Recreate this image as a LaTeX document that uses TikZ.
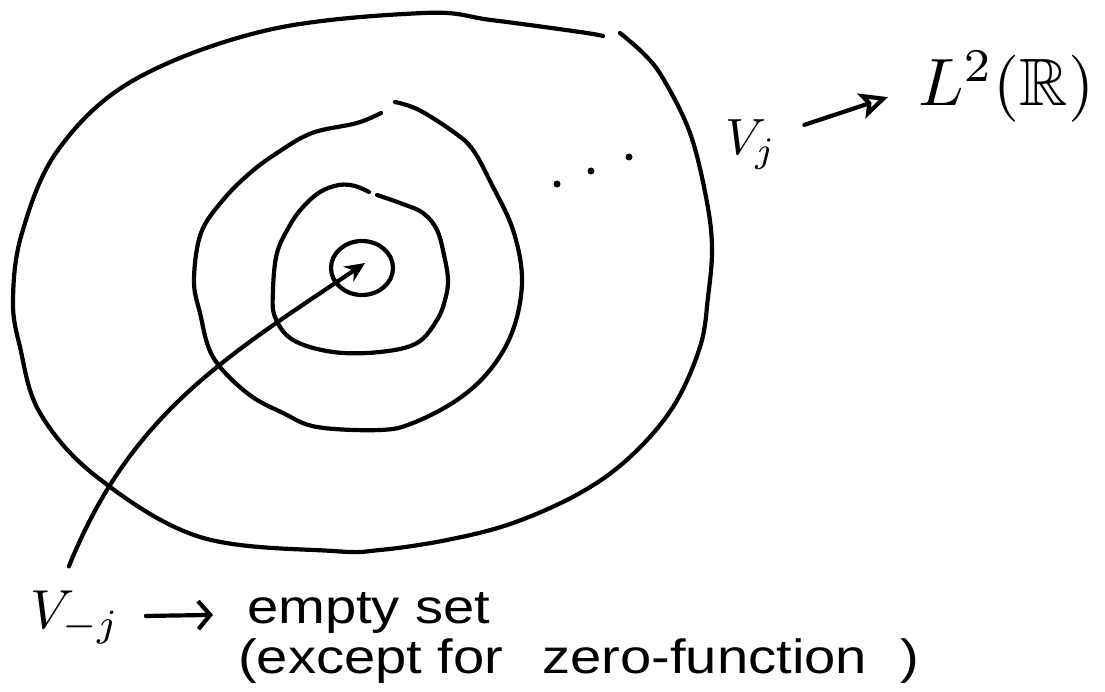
\documentclass[tikz,border=0pt]{standalone}
\usepackage{fontspec}
\setmainfont{Liberation Sans}
\usepackage{amssymb}
\usetikzlibrary{arrows.meta,shapes.geometric}
\begin{document}
\begin{tikzpicture}[x=1pt,y=-1pt, line width=4.2pt, line cap=round, line join=round,
  ring/.style={draw=black, line width=4.2pt},
  lbl/.style={inner sep=0pt, anchor=base west},
  txt/.style={inner sep=0pt, anchor=base west, font=\fontsize{48}{58}\selectfont},
  dotmark/.style={fill=black, circle, inner sep=0pt, minimum size=7pt}]
\useasboundingbox (0,0) rectangle (1105,692);
\fill[white] (0,0) rectangle (1105,692);

% outer region
\draw[ring] plot[smooth, tension=0.6] coordinates {
  (620,33) (645,55) (664,80) (690,133) (706,197) (712,247) (708,297) (700,347)
  (673,407) (630,457) (580,493) (513,523) (447,540) (380,550) (333,551) (200,537)
  (97,477) (40,413) (20,347) (13,300) (22,233) (58,150) (134,80) (268,30)
  (424,13) (491,20) (580,32) (603,36)};
% middle region
\draw[ring] plot[smooth, tension=0.6] coordinates {
  (395,102) (419,110) (455,133) (473,150) (491,183) (513,230) (522,280) (513,330)
  (490,370) (457,400) (413,423) (380,430) (317,427) (283,413) (247,393) (213,357)
  (200,313) (194,280) (201,233) (223,200) (250,173) (277,153) (312,133) (357,123) (381,113)};
% inner region
\draw[ring] plot[smooth, tension=0.6] coordinates {
  (377,195) (400,203) (423,213) (437,230) (444,255) (448,280) (445,300) (437,320)
  (417,343) (380,352) (333,352) (293,340) (275,317) (273,290) (277,253) (290,225)
  (303,207) (320,192) (339,185) (355,186) (369,192)};
% innermost
\node[draw, ellipse, line width=4.2pt, minimum width=62pt, minimum height=54pt, inner sep=0pt] (c0) at (362,268) {};

% dots
\node[dotmark] (d1) at (557,184) {};
\node[dotmark] (d2) at (591,171) {};
\node[dotmark] (d3) at (629,157) {};

% labels
\node[lbl] (Vj) at (723,155) {\scalebox{5.1}{$V_j$}};
\node[lbl] (L2) at (916,106) {\scalebox{6.7}{$L^2(\mathbb{R})$}};
\node[lbl] (Vmj) at (28,628) {\scalebox{5.5}{$V_{-j}$}};
\node[txt] (empty) at (245,623) {\scalebox{1.17}[1]{empty set}};
\node[txt] (except) at (236,673) {\scalebox{1.17}[1]{(except for\hspace{20pt} zero-function\hspace{15pt} )}};

% connectors
\draw[-{Stealth[open,length=28pt,width=26pt,inset=6pt]}]
  ([shift={(26,-20)}]Vj.east) -- ([shift={(-28,10)}]L2.west);
\draw[-{Straight Barb[length=12pt,width=28pt]}, shorten <=24pt, shorten >=32pt]
  (Vmj) -- (empty);
\draw[-{Stealth[length=20pt,width=18pt]}]
  ([shift={(-6,-22)}]Vmj.north) to[out=68,in=214] ([shift={(3,-5)}]c0.center);
\end{tikzpicture}
\end{document}
